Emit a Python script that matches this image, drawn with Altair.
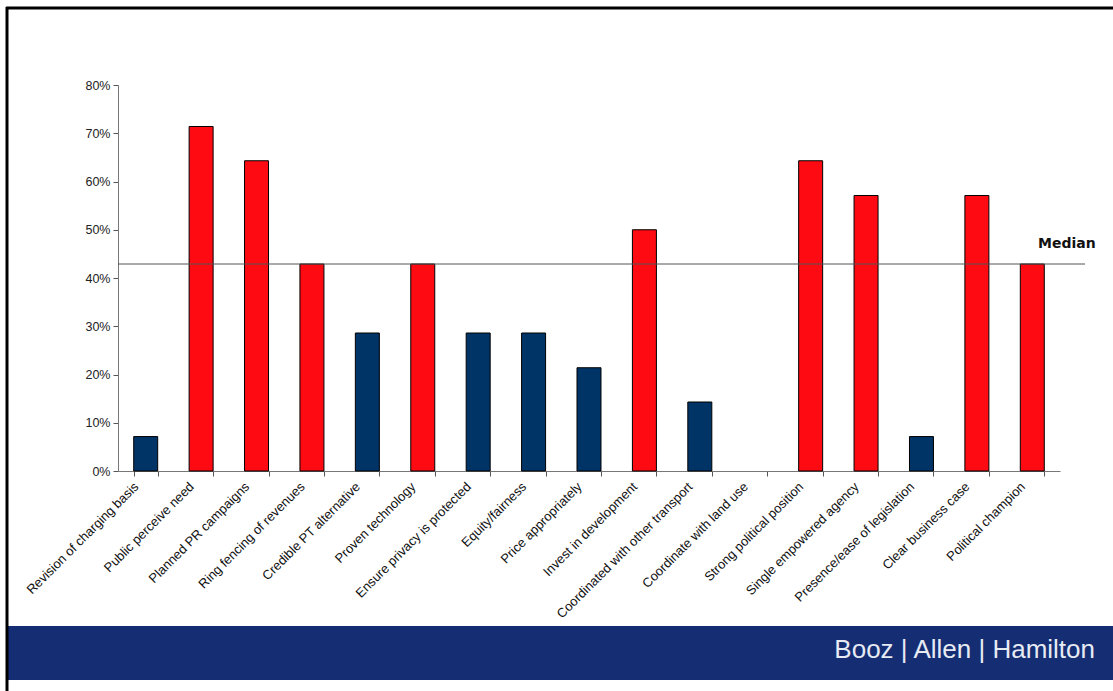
import altair as alt
import pandas as pd

categories = [
    "Revision of charging basis", "Public perceive need", "Planned PR campaigns",
    "Ring fencing of revenues", "Credible PT alternative", "Proven technology",
    "Ensure privacy is protected", "Equity/fairness", "Price appropriately",
    "Invest in development", "Coordinated with other transport",
    "Coordinate with land use", "Strong political position",
    "Single empowered agency", "Presence/ease of legislation",
    "Clear business case", "Political champion",
]
values = [0.0714, 0.714, 0.643, 0.429, 0.286, 0.429, 0.286, 0.286, 0.214,
          0.50, 0.143, 0.0, 0.643, 0.571, 0.0714, 0.571, 0.429]
median_value = 0.429
y_ticks = [0, 0.1, 0.2, 0.3, 0.4, 0.5, 0.6, 0.7, 0.8]
footer_text = ["Booz | Allen | Hamilton"]

df = pd.DataFrame({"category": categories, "value": values})
df["above"] = df["value"] >= median_value

W, H = 942, 386

bars = alt.Chart(df).mark_bar(stroke="#000000", strokeWidth=1).encode(
    x=alt.X("category:N", sort=categories,
            scale=alt.Scale(paddingInner=0.567, paddingOuter=0.2835),
            axis=alt.Axis(title=None, labelAngle=-45, labelFontSize=13,
                          labelFont="Liberation Sans", labelColor="#111111",
                          labelLimit=400, labelOverlap=False,
                          tickBand="extent", tickSize=5, tickColor="#555555",
                          domainColor="#777777", labelPadding=4, labelOffset=-14)),
    y=alt.Y("value:Q", scale=alt.Scale(domain=[0, 0.8]),
            axis=alt.Axis(title=None, values=y_ticks, format=".0%", grid=False,
                          labelFontSize=12.5, labelFont="Liberation Sans",
                          labelColor="#222222", tickSize=5, tickColor="#555555",
                          domainColor="#777777", labelPadding=3)),
    color=alt.Color("above:N", scale=alt.Scale(domain=[True, False],
                                                 range=["#FE0A12", "#003366"]),
                    legend=None),
    opacity=alt.condition(alt.datum.value > 0, alt.value(1), alt.value(0)),
)

med_df = pd.DataFrame({"median": [median_value], "label": ["Median"]})
med_rule = alt.Chart(med_df).mark_rule(color="#555555", strokeWidth=1).encode(
    y="median:Q", x=alt.value(0), x2=alt.value(967))
med_text = alt.Chart(med_df).mark_text(
    align="left", baseline="alphabetic", fontWeight="bold", fontSize=14,
    font="DejaVu Sans", dy=-16, color="#111111").encode(
    y="median:Q", x=alt.value(920), text="label:N")

foot_df = pd.DataFrame({"label": footer_text})
footer = alt.Chart(foot_df).mark_rect(color="#142D73").encode(
    x=alt.value(-110), x2=alt.value(995), y=alt.value(541), y2=alt.value(595))
footer_lbl = alt.Chart(foot_df).mark_text(
    align="right", baseline="alphabetic", fontSize=26, font="Liberation Sans",
    color="#E6EAF3").encode(x=alt.value(977), y=alt.value(573), text="label:N")
border_top = alt.Chart(foot_df).mark_rule(color="#000000", strokeWidth=3).encode(
    x=alt.value(-112), x2=alt.value(995), y=alt.value(-77))
border_left = alt.Chart(foot_df).mark_rule(color="#000000", strokeWidth=3).encode(
    x=alt.value(-111), y=alt.value(-78), y2=alt.value(606))

chart = alt.layer(bars, med_rule, med_text, footer, footer_lbl,
                  border_top, border_left).properties(
    width=W, height=H,
    autosize=alt.AutoSizeParams(type="none"),
    padding={"left": 118, "top": 85, "right": 53, "bottom": 220},
    background="#FFFFFF",
).configure_view(stroke=None)

chart.save("out.html", embed_options={"renderer": "svg", "actions": False})
